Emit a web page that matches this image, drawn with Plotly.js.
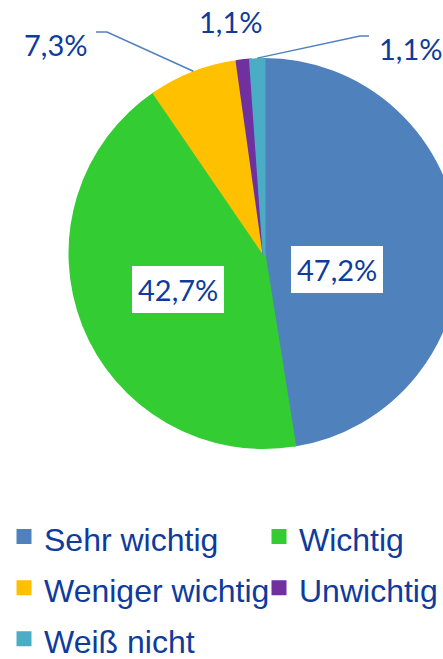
<!DOCTYPE html>
<html><head><meta charset="utf-8">
<script src="https://cdn.plot.ly/plotly-3.0.1.min.js"></script>
<style>html,body{margin:0;padding:0;overflow:hidden;background:#fff}#chart{width:560px;height:659px}</style>
</head><body><div id="chart"></div>
<script>
const categories = ['Sehr wichtig', 'Wichtig', 'Weniger wichtig', 'Unwichtig', 'Weiß nicht'];
const values = [47.2, 42.7, 7.3, 1.1, 1.1];
const colors = ['#4F81BD', '#33CC33', '#FFC000', '#7030A0', '#4BACC6'];

const W = 560, H = 659;
const textColor = '#0E3B9C';
const fmt = v => v.toFixed(1).replace('.', ',') + '%';
const px = x => x / W, py = y => 1 - y / H;

// pie geometry in pixels
const cx = 264, cy = 253.5, R = 195.5, Rd = 194;
const total = values.reduce((a, b) => a + b, 0);
const midAngle = i => { let s = 0; for (let k = 0; k < i; k++) s += values[k]; return (s + values[i] / 2) / total * 2 * Math.PI; };
const edge = i => [cx + R * Math.sin(midAngle(i)), cy - R * Math.cos(midAngle(i))];

// label placement (pixels)
const labelPos = [
  {x: 336.5, y: 269.5, box: true},
  {x: 178, y: 289.5, box: true},
  {x: 55, y: 44},
  {x: 230, y: 22},
  {x: 411, y: 48}
];
const leaders = {2: [[96, 32], [107, 32]], 4: [[369, 36], [360, 36]]};

const annotations = values.map((v, i) => ({
  xref: 'paper', yref: 'paper', x: px(labelPos[i].x), y: py(labelPos[i].y),
  xanchor: 'center', yanchor: 'middle', showarrow: false,
  text: fmt(v),
  font: {family: 'Lato, sans-serif', size: 29, color: textColor},
  bgcolor: labelPos[i].box ? '#ffffff' : 'rgba(0,0,0,0)',
  borderpad: 6, borderwidth: 0
}));

const shapes = Object.keys(leaders).map(k => {
  const pts = leaders[k].concat([edge(+k)]);
  const path = pts.map((p, j) => (j ? 'L' : 'M') + px(p[0]) + ',' + py(p[1])).join(' ');
  return {type: 'path', xref: 'paper', yref: 'paper', path: path, line: {color: '#4F81BD', width: 1.5}};
});

const trace = {
  type: 'pie',
  labels: categories.map(c => '<span style="font-size:32px">' + c + '</span>'),
  values: values,
  sort: false,
  direction: 'clockwise',
  rotation: 0,
  textinfo: 'none',
  hoverinfo: 'none',
  marker: {colors: colors, line: {color: colors, width: 3}},
  domain: {x: [(cx - Rd) / W, (cx + Rd) / W], y: [1 - (cy + Rd) / H, 1 - (cy - Rd) / H]}
};

const layout = {
  width: W, height: H,
  margin: {l: 0, r: 0, t: 0, b: 0, autoexpand: false},
  paper_bgcolor: '#ffffff',
  showlegend: true,
  legend: {
    orientation: 'h', x: px(4), xanchor: 'left', y: py(506), yanchor: 'top',
    entrywidth: 210, entrywidthmode: 'pixels', traceorder: 'normal',
    font: {family: 'Liberation Sans, Arial, sans-serif', size: 37, color: textColor}
  },
  annotations: annotations,
  shapes: shapes
};

Plotly.newPlot('chart', [trace], layout, {displayModeBar: false, staticPlot: true});
</script>
</body></html>
